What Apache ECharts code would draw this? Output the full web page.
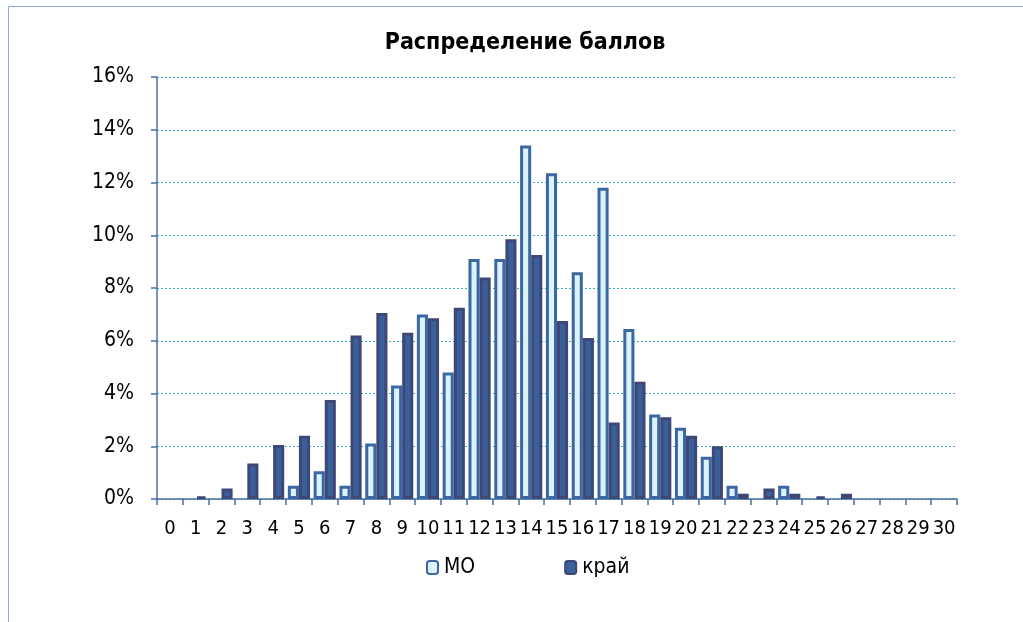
<!DOCTYPE html>
<html><head><meta charset="utf-8">
<script src="https://cdn.jsdelivr.net/npm/echarts@6/dist/echarts.min.js"></script>
<style>html,body{margin:0;padding:0;background:#fff}#c{width:1023px;height:622px}</style>
</head><body><div id="c"></div>
<script>
const categories = ['0','1','2','3','4','5','6','7','8','9','10','11','12','13','14','15','16','17','18','19','20','21','22','23','24','25','26','27','28','29','30'];
const moValues = [0,0,0,0,0,0.5,1.05,0.5,2.1,4.3,7.0,4.8,9.1,9.1,13.4,12.35,8.6,11.8,6.45,3.2,2.7,1.6,0.5,0,0.5,0,0,0,0,0,0];
const krayValues = [0,0.1,0.4,1.35,2.05,2.4,3.75,6.2,7.05,6.3,6.85,7.25,8.4,9.85,9.25,6.75,6.1,2.9,4.45,3.1,2.4,2.0,0.2,0.4,0.2,0.1,0.2,0,0,0,0];
const seriesNames = ['МО','край'];
const titleText = 'Распределение баллов';

// zero-height bars are not drawn in the original
const hideZero = arr => arr.map(v => v === 0 ? '-' : v);

const chart = echarts.init(document.getElementById('c'), null, {renderer:'canvas'});
const narrow = '"Liberation Sans Narrow","DejaVu Sans Condensed",Arial,sans-serif';
chart.setOption({
  animation:false,
  backgroundColor:'#fff',
  graphic:[{type:'rect',shape:{x:8.5,y:6.5,width:1100,height:700},style:{fill:'none',stroke:'#8eaad6',lineWidth:1},silent:true}],
  title:{text:titleText,left:520,top:27,textAlign:'center',textStyle:{fontFamily:narrow,fontWeight:'bold',fontSize:23,color:'#000'}},
  legend:{left:421,top:552,itemGap:89,itemWidth:11,itemHeight:13,
    textStyle:{fontFamily:narrow,fontSize:21,color:'#000',padding:[0,0,0,1]},
    data:seriesNames},
  grid:{left:157,right:66,top:77,bottom:123,containLabel:false},
  xAxis:{type:'category',data:categories,boundaryGap:true,
    axisLine:{lineStyle:{color:'#4a6fa5',width:1.5}},
    axisTick:{show:true,alignWithLabel:false,length:6,lineStyle:{color:'#4a6fa5',width:1.5}},
    axisLabel:{interval:0,fontFamily:narrow,fontSize:20,color:'#000',margin:20},
    splitLine:{show:false}},
  yAxis:{type:'value',min:0,max:16,interval:2,
    axisLine:{show:true,lineStyle:{color:'#4a6fa5',width:1.5}},
    axisTick:{show:true,length:6,inside:false,lineStyle:{color:'#4a6fa5',width:1.5}},
    axisLabel:{formatter:'{value}%',fontFamily:narrow,fontSize:21,color:'#000',margin:23},
    splitLine:{show:true,lineStyle:{color:'#3aa9c8',type:[2,2],width:1}}},
  series:[
    {name:seriesNames[0],type:'bar',data:hideZero(moValues),barGap:'0%',barCategoryGap:'14%',
     itemStyle:{color:'#dcf3f9',borderColor:'#3b68a3',borderWidth:3}},
    {name:seriesNames[1],type:'bar',data:hideZero(krayValues),barGap:'0%',barCategoryGap:'14%',
     itemStyle:{color:'#3a609c',borderColor:'#3e4876',borderWidth:3}}
  ]
});
</script></body></html>
